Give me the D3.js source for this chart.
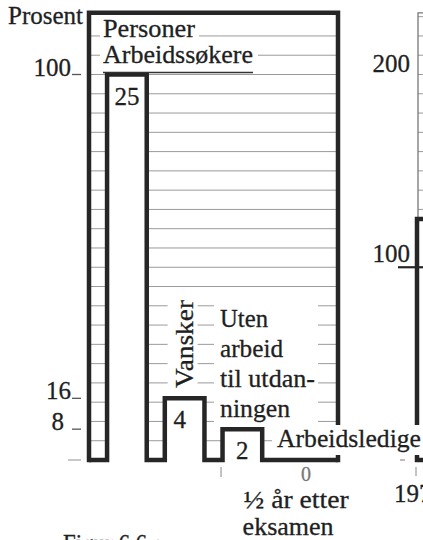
<!DOCTYPE html>
<html>
<head>
<meta charset="utf-8">
<script src="https://cdn.jsdelivr.net/npm/d3@7/dist/d3.min.js"></script>
<style>
  html, body { margin: 0; padding: 0; background: #fff; }
  svg { display: block; }
</style>
</head>
<body>
<script>
// Graduates looking for work: head counts in each group
const categories = ["Arbeidssøkere", "Vansker", "Arbeidsledige", "½ år etter eksamen"];
const counts = [25, 4, 2, 0];
const totalPersons = 29;      // "Personer" – the whole group
const baseCount = 25;         // shares are per cent of the job seekers
const yTickValues = [100, 16, 8, 0];
const gridStep = 5;
const gridMax = 110;

// Second panel, cut off by the right edge of the page
const rightTickValues = [200, 100];
const rightFirstValue = 125;
const rightFrameValue = 232;
const rightYearLabel = "1970";

const W = 423, H = 540;
const FS = 25;
const FONT = '"Liberation Serif", "Times New Roman", Tinos, serif';
const INK = "#262626";
const TEXT = "#1f1f1f";
const GRID = "#9a9a9a";

const shares = counts.map(c => c / baseCount * 100);
const totalShare = totalPersons / baseCount * 100;

const svg = d3.select("body").append("svg")
  .attr("width", W).attr("height", H)
  .attr("viewBox", `0 0 ${W} ${H}`);

const y = d3.scaleLinear().domain([0, 100]).range([460, 74.5]);
const x = d3.scaleBand().domain(categories)
  .range([89, 338]).paddingInner(0.313).paddingOuter(0.313);
const y2 = d3.scaleLinear().domain([0, 200]).range([460, 74.5]);

const [xL, xR] = x.range();
const bw = x.bandwidth();
const mid = c => x(c) + bw / 2;

// ---- rulings every 5 per cent
svg.append("g").selectAll("line")
  .data(d3.range(gridStep, gridMax + 1, gridStep))
  .join("line")
  .attr("x1", xL).attr("x2", xR)
  .attr("y1", d => y(d)).attr("y2", d => y(d))
  .attr("stroke", GRID).attr("stroke-width", 1);

// ---- white columns hide the rulings behind them
svg.append("g").selectAll("rect")
  .data(categories.map((c, i) => ({ c, v: shares[i] })).filter(d => d.v > 0))
  .join("rect")
  .attr("x", d => x(d.c)).attr("width", bw)
  .attr("y", d => y(d.v)).attr("height", d => y(0) - y(d.v))
  .attr("fill", "#fff");

// ---- outer frame (all persons)
const frame = d3.path();
frame.moveTo(xL, y(0));
frame.lineTo(xL, y(totalShare));
frame.lineTo(xR, y(totalShare));
frame.lineTo(xR, y(0));
svg.append("path").attr("d", frame.toString())
  .attr("fill", "none").attr("stroke", INK).attr("stroke-width", 4.5)
  .attr("stroke-linejoin", "miter").attr("stroke-linecap", "square");

// ---- stepped outline of the columns along the base line
const steps = d3.path();
steps.moveTo(xL, y(0));
categories.forEach((c, i) => {
  steps.lineTo(x(c), y(0));
  steps.lineTo(x(c), y(shares[i]));
  steps.lineTo(x(c) + bw, y(shares[i]));
  steps.lineTo(x(c) + bw, y(0));
});
steps.lineTo(xR, y(0));
svg.append("path").attr("d", steps.toString())
  .attr("fill", "none").attr("stroke", INK).attr("stroke-width", 4.5)
  .attr("stroke-linejoin", "miter").attr("stroke-linecap", "butt");

// ---- captions
function label(txt, px, py, opt = {}) {
  const t = svg.append("text")
    .attr("x", px).attr("y", py)
    .attr("font-size", opt.size || FS)
    .attr("fill", opt.fill || TEXT)
    .attr("stroke", opt.fill || TEXT)
    .attr("stroke-width", 0.3)
    .attr("text-anchor", opt.anchor || "start")
    .style("font-family", FONT)
    .text(txt);
  if (opt.len) t.attr("textLength", opt.len).attr("lengthAdjust", "spacingAndGlyphs");
  if (opt.transform) t.attr("transform", opt.transform).attr("x", 0).attr("y", 0);
  return t;
}

// ---- left axis ticks and labels
yTickValues.forEach(v => {
  svg.append("line")
    .attr("x1", v === 0 ? 68 : 72).attr("x2", 81)
    .attr("y1", y(v)).attr("y2", y(v))
    .attr("stroke", v === 0 ? "#aaa" : "#555").attr("stroke-width", 1.3);
  if (v > 0) label(v, v === 8 ? 64 : 71, y(v) + 1, { anchor: "end" });
});

// ---- second panel
const rx = xR + 79;
svg.append("g").selectAll("line")
  .data(d3.range(130, rightFrameValue, 10))
  .join("line")
  .attr("x1", rx + 1).attr("x2", W + 5)
  .attr("y1", d => y2(d)).attr("y2", d => y2(d))
  .attr("stroke", GRID).attr("stroke-width", 1);
const thin = d3.path();
thin.moveTo(rx + 1, y2(rightFirstValue));
thin.lineTo(rx + 1, y2(rightFrameValue));
thin.lineTo(W + 5, y2(rightFrameValue));
svg.append("path").attr("d", thin.toString())
  .attr("fill", "none").attr("stroke", "#777").attr("stroke-width", 1.3);
const thick = d3.path();
thick.moveTo(W + 5, y2(0));
thick.lineTo(rx, y2(0));
thick.lineTo(rx, y2(rightFirstValue));
thick.lineTo(W + 5, y2(rightFirstValue));
svg.append("path").attr("d", thick.toString())
  .attr("fill", "none").attr("stroke", INK).attr("stroke-width", 4.5);
svg.append("line")
  .attr("x1", rx - 19).attr("x2", W + 5)
  .attr("y1", y2(100)).attr("y2", y2(100))
  .attr("stroke", INK).attr("stroke-width", 2.2);
svg.append("line")
  .attr("x1", rx - 17).attr("x2", rx - 12)
  .attr("y1", y2(0)).attr("y2", y2(0))
  .attr("stroke", "#999").attr("stroke-width", 1.3);
rightTickValues.forEach(v => {
  label(v, rx - 7, y2(v) - (v === 100 ? 5 : 2.5), { anchor: "end" });
});

// ---- white grounds behind the captions break the rulings
const grounds = [
  [100, 18, 99, 24],                 // Personer
  [100, 43, 158, 27],                // Arbeidssøkere
  [mid("Vansker") - 17, 296, 30, 99],// Vansker
  [214, 296, 104, 127],              // Uten arbeid til utdanningen
  [272, 425, 160, 30]                // Arbeidsledige
];
svg.append("g").selectAll("rect").data(grounds).join("rect")
  .attr("x", d => d[0]).attr("y", d => d[1])
  .attr("width", d => d[2]).attr("height", d => d[3])
  .attr("fill", "#fff");

label("Prosent", 8, 24, { len: 75 });
label("Personer", 103, 37, { len: 92 });
label("Arbeidssøkere", 103, 63, { len: 150 });
svg.append("line")
  .attr("x1", 103).attr("x2", 253)
  .attr("y1", y(100) - 2).attr("y2", y(100) - 2)
  .attr("stroke", "#333").attr("stroke-width", 1.6);

// counts written inside the columns
categories.forEach((c, i) => {
  if (counts[i] > 0) {
    label(counts[i], mid(c) + (c === "Vansker" ? -5 : 0), y(shares[i]) + 30,
      { anchor: "middle" });
  }
});
label(counts[3], mid(categories[3]) + 6, y(0) + 21, { anchor: "middle", size: 20, fill: "#777" });

label("Vansker", 0, 0, { len: 88, transform: `translate(${mid("Vansker") + 8.5},388) rotate(-90)` });

const tx = x("Arbeidsledige") - 2.5;
const blockLens = [48, 63, 95, 70];
["Uten", "arbeid", "til utdan-", "ningen"].forEach((s, i) => {
  label(s, tx, 327 + i * 30, { len: blockLens[i] });
});
label("Arbeidsledige", 277, 447, { len: 144 });

// time marks under the base line
svg.append("line")
  .attr("x1", x("Arbeidsledige") - 1.5).attr("x2", x("Arbeidsledige") - 1.5)
  .attr("y1", 467).attr("y2", 477)
  .attr("stroke", "#aaa").attr("stroke-width", 1.4);
svg.append("line")
  .attr("x1", rx - 1).attr("x2", rx - 1)
  .attr("y1", 467).attr("y2", 476)
  .attr("stroke", "#aaa").attr("stroke-width", 1.4);
label("½ år etter", mid(categories[3]) - 4, 508, { anchor: "middle", len: 105 });
label("eksamen", mid(categories[3]) - 12, 535, { anchor: "middle", len: 91 });
label(rightYearLabel, rx + 2, 502, { anchor: "middle" });

label("Figur 6.6 a", 63, 552, { len: 100 });
</script>
</body>
</html>
